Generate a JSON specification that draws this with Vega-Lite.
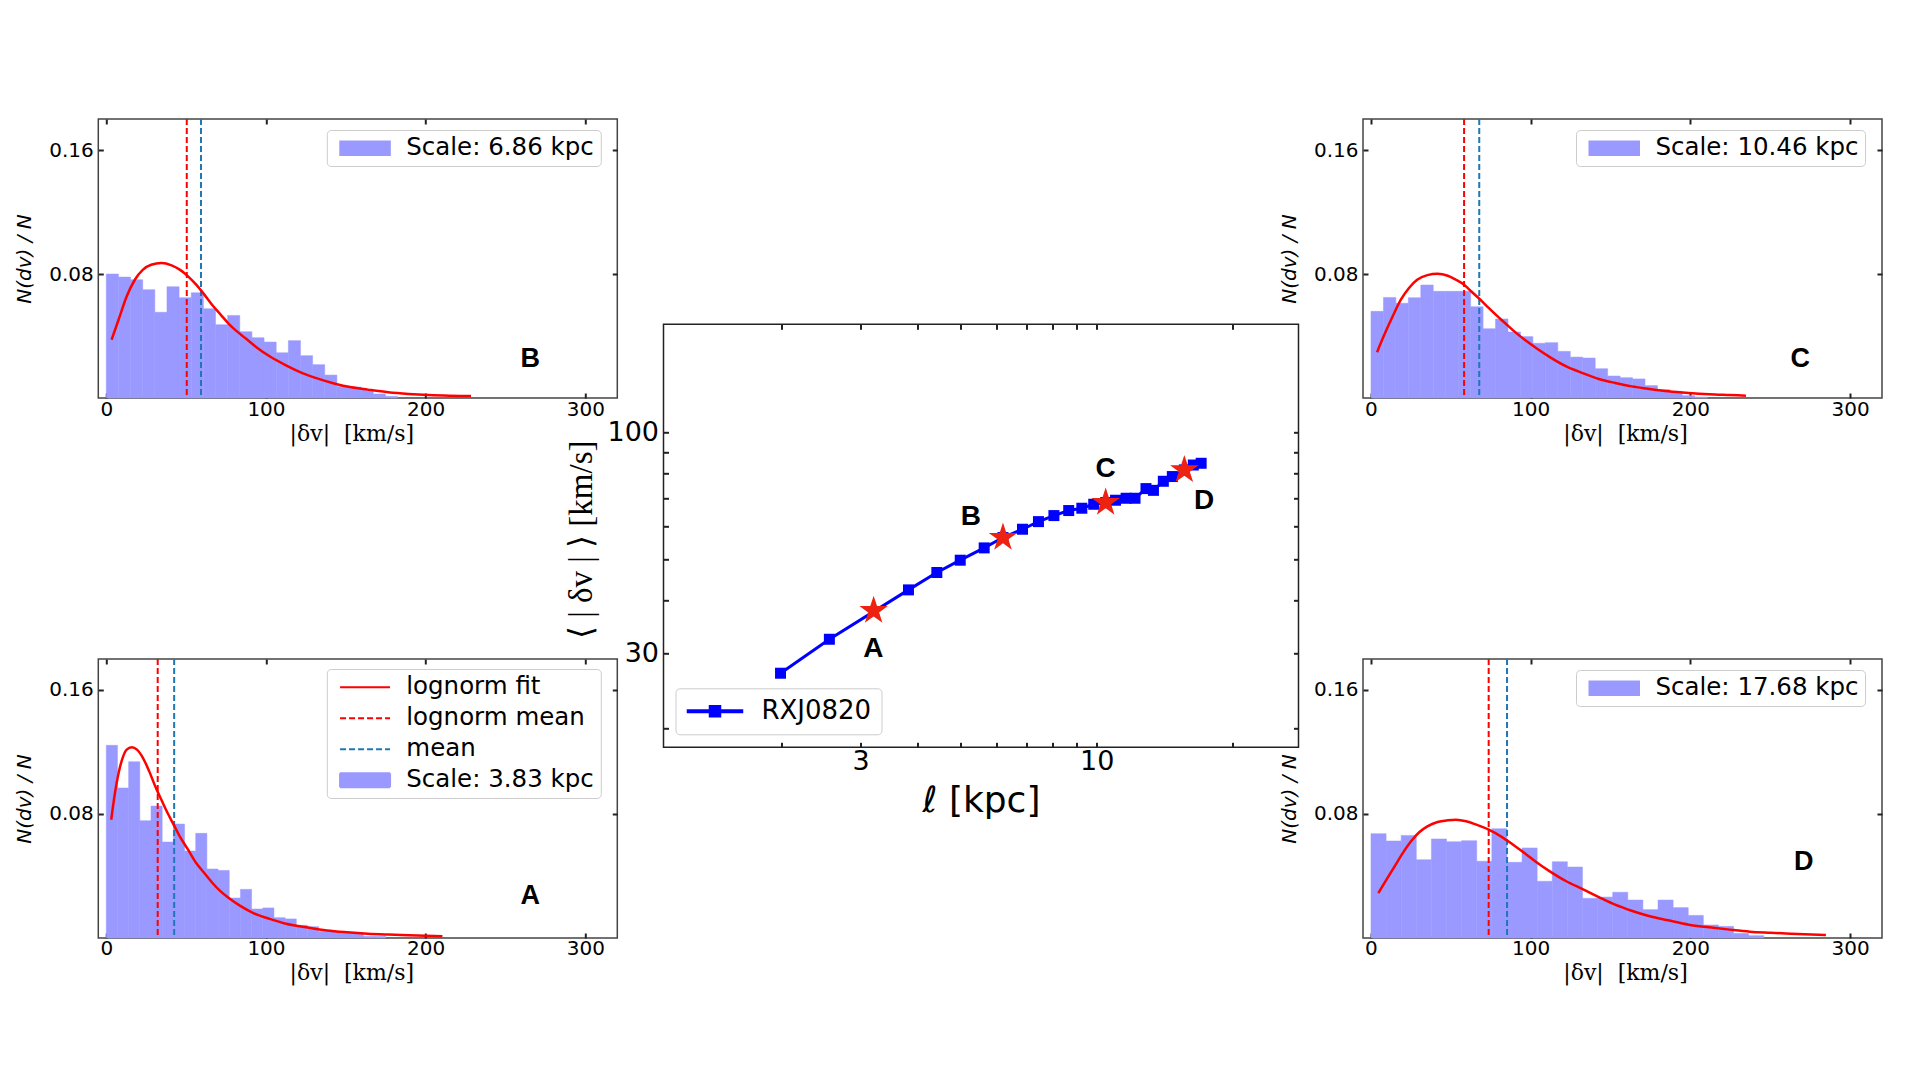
{"$schema":"https://vega.github.io/schema/vega-lite/v6.json","background":"white","padding":{"left":13.3,"top":113,"right":30,"bottom":100},
"config":{"view":{"stroke":"#444","strokeWidth":1.5},"axis":{"tickSize":-5,"tickWidth":2,"tickColor":"#222","domain":false,"grid":false,"labelFont":"DejaVu Sans","labelColor":"black","labelFontSize":20,"labelPadding":10,"titleFontWeight":"normal","titleColor":"black","labelOverlap":false,"labelBound":false,"labelFlush":false},"legend":{"orient":"none","fillColor":"white","strokeColor":"#ccc","cornerRadius":4,"padding":6,"labelFont":"DejaVu Sans","labelFontSize":24.5,"labelColor":"black","labelLimit":400,"symbolSize":100,"labelOffset":49,"rowPadding":6,"title":null}},
"datasets":{
"hA":[{"x0":0,"x1":7,"n":0.1243},{"x0":7,"x1":14,"n":0.0968},{"x0":14,"x1":21,"n":0.1137},{"x0":21,"x1":28,"n":0.0757},{"x0":28,"x1":35,"n":0.0851},{"x0":35,"x1":42,"n":0.0619},{"x0":42,"x1":49,"n":0.0735},{"x0":49,"x1":56,"n":0.0561},{"x0":56,"x1":63,"n":0.0675},{"x0":63,"x1":70,"n":0.0445},{"x0":70,"x1":77,"n":0.0436},{"x0":77,"x1":84,"n":0.0258},{"x0":84,"x1":91,"n":0.0314},{"x0":91,"x1":98,"n":0.0187},{"x0":98,"x1":105,"n":0.0194},{"x0":105,"x1":112,"n":0.0131},{"x0":112,"x1":119,"n":0.0123},{"x0":119,"x1":126,"n":0.0082},{"x0":126,"x1":133,"n":0.0073},{"x0":133,"x1":140,"n":0.0043},{"x0":140,"x1":147,"n":0.0041},{"x0":147,"x1":154,"n":0.0032},{"x0":154,"x1":161,"n":0.0028},{"x0":161,"x1":168,"n":0.0011},{"x0":168,"x1":175,"n":0.0011}],
"hB":[{"x0":0,"x1":7.6,"n":0.08},{"x0":7.6,"x1":15.2,"n":0.078},{"x0":15.2,"x1":22.8,"n":0.0763},{"x0":22.8,"x1":30.4,"n":0.0699},{"x0":30.4,"x1":38,"n":0.0553},{"x0":38,"x1":45.6,"n":0.0718},{"x0":45.6,"x1":53.2,"n":0.0647},{"x0":53.2,"x1":60.8,"n":0.0679},{"x0":60.8,"x1":68.4,"n":0.0576},{"x0":68.4,"x1":76,"n":0.0473},{"x0":76,"x1":83.6,"n":0.0533},{"x0":83.6,"x1":91.2,"n":0.0428},{"x0":91.2,"x1":98.8,"n":0.0389},{"x0":98.8,"x1":106.4,"n":0.0361},{"x0":106.4,"x1":114,"n":0.0292},{"x0":114,"x1":121.6,"n":0.037},{"x0":121.6,"x1":129.2,"n":0.0273},{"x0":129.2,"x1":136.8,"n":0.0215},{"x0":136.8,"x1":144.4,"n":0.0148},{"x0":144.4,"x1":152,"n":0.0075},{"x0":152,"x1":159.6,"n":0.0071},{"x0":159.6,"x1":167.2,"n":0.0054},{"x0":167.2,"x1":174.8,"n":0.0026},{"x0":174.8,"x1":182.4,"n":0.0011}],
"hC":[{"x0":0,"x1":7.8,"n":0.0559},{"x0":7.8,"x1":15.6,"n":0.0649},{"x0":15.6,"x1":23.4,"n":0.0611},{"x0":23.4,"x1":31.2,"n":0.0647},{"x0":31.2,"x1":39,"n":0.0729},{"x0":39,"x1":46.8,"n":0.0688},{"x0":46.8,"x1":54.6,"n":0.0688},{"x0":54.6,"x1":62.4,"n":0.0688},{"x0":62.4,"x1":70.2,"n":0.0589},{"x0":70.2,"x1":78,"n":0.0447},{"x0":78,"x1":85.8,"n":0.051},{"x0":85.8,"x1":93.6,"n":0.0426},{"x0":93.6,"x1":101.4,"n":0.0396},{"x0":101.4,"x1":109.2,"n":0.0353},{"x0":109.2,"x1":117,"n":0.0357},{"x0":117,"x1":124.8,"n":0.0301},{"x0":124.8,"x1":132.6,"n":0.0264},{"x0":132.6,"x1":140.4,"n":0.0258},{"x0":140.4,"x1":148.2,"n":0.0189},{"x0":148.2,"x1":156,"n":0.0142},{"x0":156,"x1":163.8,"n":0.0131},{"x0":163.8,"x1":171.6,"n":0.0123},{"x0":171.6,"x1":179.4,"n":0.008},{"x0":179.4,"x1":187.2,"n":0.0054},{"x0":187.2,"x1":195,"n":0.0043},{"x0":195,"x1":202.8,"n":0.0015},{"x0":202.8,"x1":210.6,"n":0.0006}],
"hD":[{"x0":0,"x1":9.46,"n":0.0673},{"x0":9.46,"x1":18.92,"n":0.0626},{"x0":18.92,"x1":28.38,"n":0.0662},{"x0":28.38,"x1":37.84,"n":0.0505},{"x0":37.84,"x1":47.3,"n":0.0639},{"x0":47.3,"x1":56.76,"n":0.0621},{"x0":56.76,"x1":66.22,"n":0.0628},{"x0":66.22,"x1":75.68,"n":0.0495},{"x0":75.68,"x1":85.14,"n":0.0705},{"x0":85.14,"x1":94.6,"n":0.0488},{"x0":94.6,"x1":104.06,"n":0.0581},{"x0":104.06,"x1":113.52,"n":0.0366},{"x0":113.52,"x1":122.98,"n":0.0492},{"x0":122.98,"x1":132.44,"n":0.0458},{"x0":132.44,"x1":141.9,"n":0.0256},{"x0":141.9,"x1":151.36,"n":0.0264},{"x0":151.36,"x1":160.82,"n":0.0295},{"x0":160.82,"x1":170.28,"n":0.0245},{"x0":170.28,"x1":179.74,"n":0.0183},{"x0":179.74,"x1":189.2,"n":0.0245},{"x0":189.2,"x1":198.66,"n":0.0196},{"x0":198.66,"x1":208.12,"n":0.0146},{"x0":208.12,"x1":217.58,"n":0.0084},{"x0":217.58,"x1":227.04,"n":0.0075},{"x0":227.04,"x1":236.5,"n":0.003},{"x0":236.5,"x1":245.96,"n":0.0015}],
"fA":[{"v":3.1,"n":0.0763},{"v":5.1,"n":0.0914},{"v":7.7,"n":0.1064},{"v":10.2,"n":0.1161},{"v":12.8,"n":0.1215},{"v":15.9,"n":0.123},{"v":19.2,"n":0.1215},{"v":23,"n":0.1161},{"v":26.9,"n":0.1075},{"v":30.7,"n":0.0978},{"v":34.5,"n":0.0892},{"v":38.4,"n":0.0806},{"v":42.2,"n":0.0731},{"v":46,"n":0.0656},{"v":51.2,"n":0.057},{"v":56.3,"n":0.0484},{"v":61.4,"n":0.0419},{"v":66.5,"n":0.0355},{"v":71.6,"n":0.0301},{"v":76.7,"n":0.0258},{"v":84.4,"n":0.0204},{"v":92.1,"n":0.0161},{"v":102.3,"n":0.0123},{"v":112.5,"n":0.0092},{"v":125.3,"n":0.0069},{"v":138.1,"n":0.0049},{"v":150.9,"n":0.0037},{"v":163.7,"n":0.0028},{"v":176.5,"n":0.0022},{"v":189.3,"n":0.0017},{"v":210.5,"n":0.0011}],
"fB":[{"v":3.3,"n":0.0376},{"v":7.7,"n":0.0505},{"v":12.8,"n":0.0656},{"v":17.9,"n":0.0763},{"v":23,"n":0.0828},{"v":28.1,"n":0.086},{"v":34.5,"n":0.0871},{"v":40.9,"n":0.0856},{"v":46,"n":0.0828},{"v":51.2,"n":0.0785},{"v":56.3,"n":0.0731},{"v":61.4,"n":0.0667},{"v":66.5,"n":0.0598},{"v":71.6,"n":0.0538},{"v":76.7,"n":0.0479},{"v":81.8,"n":0.043},{"v":87,"n":0.0387},{"v":94.6,"n":0.0323},{"v":102.3,"n":0.0269},{"v":112.5,"n":0.0211},{"v":122.8,"n":0.0161},{"v":133,"n":0.0123},{"v":143.2,"n":0.0092},{"v":153.5,"n":0.0069},{"v":163.7,"n":0.0054},{"v":176.5,"n":0.0037},{"v":189.3,"n":0.0026},{"v":202,"n":0.0019},{"v":214.8,"n":0.0015},{"v":228.4,"n":0.0013}],
"fC":[{"v":3.8,"n":0.0295},{"v":8.4,"n":0.0409},{"v":13.6,"n":0.0527},{"v":18.7,"n":0.0634},{"v":23.8,"n":0.071},{"v":28.9,"n":0.0763},{"v":35.3,"n":0.0793},{"v":41.7,"n":0.0802},{"v":48.1,"n":0.0789},{"v":53.2,"n":0.0763},{"v":58.3,"n":0.0731},{"v":63.4,"n":0.0682},{"v":68.5,"n":0.0634},{"v":73.7,"n":0.0581},{"v":78.8,"n":0.0531},{"v":83.9,"n":0.0484},{"v":89,"n":0.0436},{"v":96.7,"n":0.0372},{"v":104.3,"n":0.0316},{"v":112,"n":0.0264},{"v":122.3,"n":0.0204},{"v":132.5,"n":0.0161},{"v":142.7,"n":0.0123},{"v":152.9,"n":0.0097},{"v":163.2,"n":0.0075},{"v":173.4,"n":0.006},{"v":186.2,"n":0.0043},{"v":199,"n":0.0032},{"v":211.8,"n":0.0024},{"v":224.6,"n":0.0019},{"v":234.8,"n":0.0015}],
"fD":[{"v":4.6,"n":0.029},{"v":9.7,"n":0.0376},{"v":14.8,"n":0.0462},{"v":19.9,"n":0.0548},{"v":25.1,"n":0.0624},{"v":30.2,"n":0.0682},{"v":35.3,"n":0.072},{"v":41.7,"n":0.0748},{"v":48.1,"n":0.0759},{"v":53.2,"n":0.0763},{"v":59.6,"n":0.0753},{"v":66,"n":0.0731},{"v":73.7,"n":0.0699},{"v":81.3,"n":0.0656},{"v":89,"n":0.0602},{"v":96.7,"n":0.0544},{"v":104.3,"n":0.0484},{"v":112,"n":0.043},{"v":122.3,"n":0.0366},{"v":132.5,"n":0.0316},{"v":142.7,"n":0.0264},{"v":152.9,"n":0.0215},{"v":163.2,"n":0.0176},{"v":173.4,"n":0.0144},{"v":186.2,"n":0.0114},{"v":199,"n":0.0086},{"v":211.8,"n":0.0069},{"v":224.6,"n":0.0054},{"v":237.3,"n":0.0041},{"v":250.1,"n":0.0034},{"v":262.9,"n":0.0028},{"v":284.9,"n":0.0019}],
"centre":[{"l":1.993,"d":26.95},{"l":2.557,"d":32.43},{"l":3.828,"d":42.44},{"l":4.424,"d":46.65},{"l":4.985,"d":49.89},{"l":5.633,"d":53.35},{"l":6.2,"d":56.45},{"l":6.85,"d":59.06},{"l":7.43,"d":61.56},{"l":8.04,"d":63.62},{"l":8.67,"d":65.39},{"l":9.27,"d":66.22},{"l":9.85,"d":67.67},{"l":10.47,"d":68.3},{"l":11.01,"d":69.17},{"l":11.62,"d":69.92},{"l":12.16,"d":69.92},{"l":12.86,"d":73.7},{"l":13.36,"d":73},{"l":14.05,"d":76.7},{"l":14.71,"d":78.7},{"l":15.64,"d":81.6},{"l":16.37,"d":83.8},{"l":17.04,"d":84.6}],
"stars":[{"l":3.205,"d":37.9},{"l":6.2,"d":56.45},{"l":10.47,"d":68.3},{"l":15.64,"d":81.6}],
"letters":[{"l":3.2,"d":30.8,"t":"A"},{"l":5.26,"d":63.3,"t":"B"},{"l":10.47,"d":81.9,"t":"C"},{"l":17.3,"d":68.7,"t":"D"}]
},
"resolve":{"scale":{"color":"independent"},"legend":{"color":"independent"}},
"hconcat":[
{"resolve":{"scale":{"color":"independent"},"legend":{"color":"independent"}},"hconcat":[
{"resolve":{"scale":{"color":"independent"},"legend":{"color":"independent"}},"vconcat":[
{"width":519,"height":279,"resolve":{"axis":{"x":"independent","y":"independent"}},"layer":[
{"data":{"name":"hB"},"mark":{"type":"rect","stroke":"#9999ff","strokeWidth":0.5},"encoding":{"x":{"field":"x0","type":"quantitative","scale":{"domain":[-5,320],"nice":false,"zero":false},"axis":{"values":[0,100,200,300],"labelPadding":6,"title":"|δv|\u00a0\u00a0[km/s]","titleX":253,"titleFont":"DejaVu Serif","titleFontSize":22,"titlePadding":4}},"x2":{"field":"x1"},"y":{"field":"n","type":"quantitative","scale":{"domain":[0,0.18],"nice":false},"axis":{"values":[0.08,0.16],"format":".2f","title":"N(dv) / N","titleFont":"DejaVu Sans","titleFontStyle":"italic","titleFontSize":20,"titlePadding":14}},"y2":{"datum":0},"color":{"datum":"Scale: 6.86 kpc","scale":{"domain":["Scale: 6.86 kpc"],"range":["#9999ff"]},"legend":{"legendX":228.5,"legendY":11,"symbolType":"M-1,-1.4H9V1.4H-1Z"}}}},
{"data":{"values":[{"v":50.4}]},"mark":{"type":"rule","color":"red","strokeWidth":2,"strokeDash":[6,3]},"encoding":{"x":{"field":"v","type":"quantitative","scale":{"domain":[-5,320],"nice":false,"zero":false},"axis":null}}},
{"data":{"values":[{"v":59.3}]},"mark":{"type":"rule","color":"#1f77b4","strokeWidth":2,"strokeDash":[6,3]},"encoding":{"x":{"field":"v","type":"quantitative","scale":{"domain":[-5,320],"nice":false,"zero":false},"axis":null}}},
{"data":{"name":"fB"},"mark":{"type":"line","color":"red","strokeWidth":2.5,"interpolate":"monotone"},"encoding":{"x":{"field":"v","type":"quantitative","scale":{"domain":[-5,320],"nice":false,"zero":false},"axis":{"orient":"top","values":[0,100,200,300],"labels":false,"title":null}},"y":{"field":"n","type":"quantitative","scale":{"domain":[0,0.18],"nice":false},"axis":{"orient":"right","values":[0.08,0.16],"labels":false,"title":null}}}},
{"data":{"values":[{"v":265.5,"n":0.0252,"t":"B"}]},"mark":{"type":"text","font":"Liberation Sans","fontWeight":"bold","fontSize":27,"color":"black"},"encoding":{"x":{"field":"v","type":"quantitative","scale":{"domain":[-5,320],"nice":false,"zero":false},"axis":null},"y":{"field":"n","type":"quantitative","scale":{"domain":[0,0.18],"nice":false},"axis":null},"text":{"field":"t"}}}
]},
{"width":519,"height":279,"resolve":{"axis":{"x":"independent","y":"independent"}},"layer":[
{"data":{"name":"hA"},"mark":{"type":"rect","stroke":"#9999ff","strokeWidth":0.5},"encoding":{"x":{"field":"x0","type":"quantitative","scale":{"domain":[-5,320],"nice":false,"zero":false},"axis":{"values":[0,100,200,300],"labelPadding":6,"title":"|δv|\u00a0\u00a0[km/s]","titleX":253,"titleFont":"DejaVu Serif","titleFontSize":22,"titlePadding":4}},"x2":{"field":"x1"},"y":{"field":"n","type":"quantitative","scale":{"domain":[0,0.18],"nice":false},"axis":{"values":[0.08,0.16],"format":".2f","title":"N(dv) / N","titleFont":"DejaVu Sans","titleFontStyle":"italic","titleFontSize":20,"titlePadding":14}},"y2":{"datum":0},"color":{"datum":"Scale: 3.83 kpc","scale":{"domain":["lognorm fit","lognorm mean","mean","Scale: 3.83 kpc"],"range":["red","red","#1f77b4","#9999ff"]},"legend":{"legendX":228.5,"legendY":10,"symbolType":"M-1,-1.4H9V1.4H-1Z","encoding":{"symbols":{"shape":{"value":{"signal":"indexof(datum.value,'Scale')==0 ? 'M-1,-1.4H9V1.4H-1Z' : 'M-1,0H9'"}},"fill":{"value":{"signal":"indexof(datum.value,'Scale')==0 ? '#9999ff' : 'transparent'"}},"stroke":{"value":{"signal":"datum.value=='mean' ? '#1f77b4' : indexof(datum.value,'Scale')==0 ? '#9999ff' : 'red'"}},"strokeWidth":{"value":2},"strokeDash":{"value":{"signal":"indexof(datum.value,'Scale')==0 || datum.value=='lognorm fit' ? [1,0] : [6,3]"}},"opacity":{"value":1}}}}}}},
{"data":{"values":[{"v":32.2}]},"mark":{"type":"rule","color":"red","strokeWidth":2,"strokeDash":[6,3]},"encoding":{"x":{"field":"v","type":"quantitative","scale":{"domain":[-5,320],"nice":false,"zero":false},"axis":null}}},
{"data":{"values":[{"v":42.5}]},"mark":{"type":"rule","color":"#1f77b4","strokeWidth":2,"strokeDash":[6,3]},"encoding":{"x":{"field":"v","type":"quantitative","scale":{"domain":[-5,320],"nice":false,"zero":false},"axis":null}}},
{"data":{"name":"fA"},"mark":{"type":"line","color":"red","strokeWidth":2.5,"interpolate":"monotone"},"encoding":{"x":{"field":"v","type":"quantitative","scale":{"domain":[-5,320],"nice":false,"zero":false},"axis":{"orient":"top","values":[0,100,200,300],"labels":false,"title":null}},"y":{"field":"n","type":"quantitative","scale":{"domain":[0,0.18],"nice":false},"axis":{"orient":"right","values":[0.08,0.16],"labels":false,"title":null}}}},
{"data":{"values":[{"v":265.5,"n":0.0269,"t":"A"}]},"mark":{"type":"text","font":"Liberation Sans","fontWeight":"bold","fontSize":27,"color":"black"},"encoding":{"x":{"field":"v","type":"quantitative","scale":{"domain":[-5,320],"nice":false,"zero":false},"axis":null},"y":{"field":"n","type":"quantitative","scale":{"domain":[0,0.18],"nice":false},"axis":null},"text":{"field":"t"}}}
]}
],"spacing":261,"bounds":"flush"},
{"resolve":{"scale":{"color":"independent"},"legend":{"color":"independent"}},"vconcat":[
{"width":635,"height":1,"view":{"stroke":null},"data":{"values":[{"t":" "}]},"mark":{"type":"text","text":" "},"encoding":{}},
{"width":635,"height":423,"view":{"stroke":"#222"},"resolve":{"axis":{"x":"independent","y":"independent"}},"layer":[
{"data":{"name":"centre"},"mark":{"type":"line","strokeWidth":3,"color":"#0000ff","point":{"shape":"square","size":121,"filled":true,"color":"#0000ff","opacity":1}},"encoding":{"x":{"field":"l","type":"quantitative","scale":{"type":"log","domain":[1.097,28],"nice":false},"axis":{"values":[2,3,4,5,6,7,8,9,10,20],"labelExpr":"datum.value==3||datum.value==10 ? datum.value : ''","labelFontSize":27,"labelPadding":6,"title":"ℓ [kpc]","titleFont":"DejaVu Sans","titleFontSize":36,"titlePadding":9}},"y":{"field":"d","type":"quantitative","scale":{"type":"log","domain":[18,180.4],"nice":false},"axis":{"values":[20,30,40,50,60,70,80,90,100],"labelExpr":"datum.value==30||datum.value==100 ? datum.value : ''","labelFontSize":27,"labelPadding":10,"title":"⟨ | δv | ⟩ [km/s]","titleFont":"Liberation Serif","titleFontSize":33,"titleY":215,"titlePadding":8}},"color":{"datum":"RXJ0820","scale":{"domain":["RXJ0820"],"range":["#0000ff"]},"legend":{"legendX":12,"legendY":364,"labelFontSize":26,"padding":10,"labelOffset":50,"symbolType":"M-2.2,-0.25H8.8V0.25H-2.2ZM2.2,-1.1H4.4V1.1H2.2Z"}}}},
{"data":{"name":"stars"},"mark":{"type":"point","filled":true,"opacity":1,"color":"#ee2211","size":900,"shape":"M0,-1L0.225,-0.309L0.951,-0.309L0.363,0.118L0.588,0.809L0,0.382L-0.588,0.809L-0.363,0.118L-0.951,-0.309L-0.225,-0.309Z"},"encoding":{"x":{"field":"l","type":"quantitative","scale":{"type":"log","domain":[1.097,28],"nice":false},"axis":{"orient":"top","values":[2,3,4,5,6,7,8,9,10,20],"labels":false,"title":null}},"y":{"field":"d","type":"quantitative","scale":{"type":"log","domain":[18,180.4],"nice":false},"axis":{"orient":"right","values":[20,30,40,50,60,70,80,90,100],"labels":false,"title":null}}}},
{"data":{"name":"letters"},"mark":{"type":"text","font":"Liberation Sans","fontWeight":"bold","fontSize":28,"color":"black"},"encoding":{"x":{"field":"l","type":"quantitative","scale":{"type":"log","domain":[1.097,28],"nice":false},"axis":null},"y":{"field":"d","type":"quantitative","scale":{"type":"log","domain":[18,180.4],"nice":false},"axis":null},"text":{"field":"t"}}}
]}
],"spacing":204.3,"bounds":"flush"}
],"spacing":-54.8},
{"resolve":{"scale":{"color":"independent"},"legend":{"color":"independent"}},"vconcat":[
{"width":519,"height":279,"resolve":{"axis":{"x":"independent","y":"independent"}},"layer":[
{"data":{"name":"hC"},"mark":{"type":"rect","stroke":"#9999ff","strokeWidth":0.5},"encoding":{"x":{"field":"x0","type":"quantitative","scale":{"domain":[-5,320],"nice":false,"zero":false},"axis":{"values":[0,100,200,300],"labelPadding":6,"title":"|δv|\u00a0\u00a0[km/s]","titleX":262,"titleFont":"DejaVu Serif","titleFontSize":22,"titlePadding":4}},"x2":{"field":"x1"},"y":{"field":"n","type":"quantitative","scale":{"domain":[0,0.18],"nice":false},"axis":{"values":[0.08,0.16],"format":".2f","title":"N(dv) / N","titleFont":"DejaVu Sans","titleFontStyle":"italic","titleFontSize":20,"titlePadding":14}},"y2":{"datum":0},"color":{"datum":"Scale: 10.46 kpc","scale":{"domain":["Scale: 10.46 kpc"],"range":["#9999ff"]},"legend":{"legendX":213,"legendY":11,"symbolType":"M-1,-1.4H9V1.4H-1Z"}}}},
{"data":{"values":[{"v":58.3}]},"mark":{"type":"rule","color":"red","strokeWidth":2,"strokeDash":[6,3]},"encoding":{"x":{"field":"v","type":"quantitative","scale":{"domain":[-5,320],"nice":false,"zero":false},"axis":null}}},
{"data":{"values":[{"v":67.8}]},"mark":{"type":"rule","color":"#1f77b4","strokeWidth":2,"strokeDash":[6,3]},"encoding":{"x":{"field":"v","type":"quantitative","scale":{"domain":[-5,320],"nice":false,"zero":false},"axis":null}}},
{"data":{"name":"fC"},"mark":{"type":"line","color":"red","strokeWidth":2.5,"interpolate":"monotone"},"encoding":{"x":{"field":"v","type":"quantitative","scale":{"domain":[-5,320],"nice":false,"zero":false},"axis":{"orient":"top","values":[0,100,200,300],"labels":false,"title":null}},"y":{"field":"n","type":"quantitative","scale":{"domain":[0,0.18],"nice":false},"axis":{"orient":"right","values":[0.08,0.16],"labels":false,"title":null}}}},
{"data":{"values":[{"v":268.8,"n":0.0252,"t":"C"}]},"mark":{"type":"text","font":"Liberation Sans","fontWeight":"bold","fontSize":27,"color":"black"},"encoding":{"x":{"field":"v","type":"quantitative","scale":{"domain":[-5,320],"nice":false,"zero":false},"axis":null},"y":{"field":"n","type":"quantitative","scale":{"domain":[0,0.18],"nice":false},"axis":null},"text":{"field":"t"}}}
]},
{"width":519,"height":279,"resolve":{"axis":{"x":"independent","y":"independent"}},"layer":[
{"data":{"name":"hD"},"mark":{"type":"rect","stroke":"#9999ff","strokeWidth":0.5},"encoding":{"x":{"field":"x0","type":"quantitative","scale":{"domain":[-5,320],"nice":false,"zero":false},"axis":{"values":[0,100,200,300],"labelPadding":6,"title":"|δv|\u00a0\u00a0[km/s]","titleX":262,"titleFont":"DejaVu Serif","titleFontSize":22,"titlePadding":4}},"x2":{"field":"x1"},"y":{"field":"n","type":"quantitative","scale":{"domain":[0,0.18],"nice":false},"axis":{"values":[0.08,0.16],"format":".2f","title":"N(dv) / N","titleFont":"DejaVu Sans","titleFontStyle":"italic","titleFontSize":20,"titlePadding":14}},"y2":{"datum":0},"color":{"datum":"Scale: 17.68 kpc","scale":{"domain":["Scale: 17.68 kpc"],"range":["#9999ff"]},"legend":{"legendX":213,"legendY":11,"symbolType":"M-1,-1.4H9V1.4H-1Z"}}}},
{"data":{"values":[{"v":73.7}]},"mark":{"type":"rule","color":"red","strokeWidth":2,"strokeDash":[6,3]},"encoding":{"x":{"field":"v","type":"quantitative","scale":{"domain":[-5,320],"nice":false,"zero":false},"axis":null}}},
{"data":{"values":[{"v":85.2}]},"mark":{"type":"rule","color":"#1f77b4","strokeWidth":2,"strokeDash":[6,3]},"encoding":{"x":{"field":"v","type":"quantitative","scale":{"domain":[-5,320],"nice":false,"zero":false},"axis":null}}},
{"data":{"name":"fD"},"mark":{"type":"line","color":"red","strokeWidth":2.5,"interpolate":"monotone"},"encoding":{"x":{"field":"v","type":"quantitative","scale":{"domain":[-5,320],"nice":false,"zero":false},"axis":{"orient":"top","values":[0,100,200,300],"labels":false,"title":null}},"y":{"field":"n","type":"quantitative","scale":{"domain":[0,0.18],"nice":false},"axis":{"orient":"right","values":[0.08,0.16],"labels":false,"title":null}}}},
{"data":{"values":[{"v":271,"n":0.049,"t":"D"}]},"mark":{"type":"text","font":"Liberation Sans","fontWeight":"bold","fontSize":27,"color":"black"},"encoding":{"x":{"field":"v","type":"quantitative","scale":{"domain":[-5,320],"nice":false,"zero":false},"axis":null},"y":{"field":"n","type":"quantitative","scale":{"domain":[0,0.18],"nice":false},"axis":null},"text":{"field":"t"}}}
]}
],"spacing":261,"bounds":"flush"}
],"spacing":-22.3}
